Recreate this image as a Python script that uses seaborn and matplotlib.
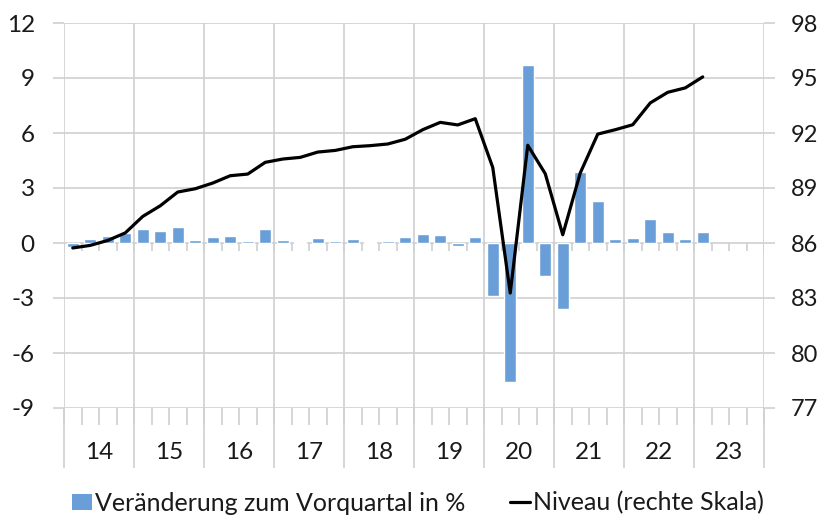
import pandas as pd
import numpy as np
import matplotlib.pyplot as plt
import seaborn as sns
from matplotlib.patches import Patch
from matplotlib.lines import Line2D
import matplotlib.transforms as mtransforms

sns.set_theme(style='white')
plt.rcParams['font.family'] = ['Lato', 'DejaVu Sans']
plt.rcParams['axes.unicode_minus'] = False

# --- DATA: quarterly, 2014Q1 .. 2023Q4 ---
years = ['14', '15', '16', '17', '18', '19', '20', '21', '22', '23']
quarters = [f'{y}Q{q}' for y in years for q in range(1, 5)]

change = [-0.2, 0.2, 0.4, 0.55,
          0.75, 0.65, 0.87, 0.15,
          0.33, 0.4, 0.1, 0.75,
          0.18, 0.05, 0.27, 0.1,
          0.24, 0.05, 0.1, 0.33,
          0.5, 0.45, -0.18, 0.33,
          -2.9, -7.6, 9.7, -1.8,
          -3.6, 3.9, 2.3, 0.23,
          0.29, 1.31, 0.62, 0.23,
          0.62, np.nan, np.nan, np.nan]

level = [85.73, 85.87, 86.14, 86.55,
         87.45, 88.03, 88.78, 88.96,
         89.27, 89.67, 89.76, 90.40,
         90.58, 90.67, 90.96, 91.05,
         91.25, 91.31, 91.40, 91.66,
         92.18, 92.58, 92.44, 92.78,
         90.12, 83.27, 91.33, 89.78,
         86.45, 89.82, 91.94, 92.18,
         92.45, 93.64, 94.22, 94.46,
         95.06, np.nan, np.nan, np.nan]

df = pd.DataFrame({'quarter': quarters, 'change': change, 'level': level})
df['pos'] = np.arange(len(df))

bar_color = '#6A9ED8'
grid_color = '#D0D0D0'
text_color = '#1A1A1A'

fig = plt.figure(figsize=(8.21, 5.19), dpi=100)
ax = fig.add_axes([64/821, 1 - 408/519, 700/821, 385/519])

sns.barplot(x='quarter', y='change', data=df, order=quarters, ax=ax,
            color=bar_color, width=0.68, saturation=1, zorder=3)
ax.set_xlim(-0.5, len(quarters) - 0.5)
ax.set_ylim(-9, 12)
ax.set_yticks(np.arange(-9, 13, 3))
ax.set_xlabel('')
ax.set_ylabel('')
ax.set_xticks([])

# gridlines
for y in np.arange(-9, 13, 3):
    ax.axhline(y, color=grid_color, lw=1.2, zorder=1)
for k in range(len(years) + 1):
    ax.axvline(-0.5 + 4 * k, color=grid_color, lw=1.2, zorder=1)

for s in ax.spines.values():
    s.set_visible(False)

# quarter ticks hanging from the zero line
trans = mtransforms.blended_transform_factory(ax.transData, ax.transAxes)
zero_frac = 9 / 21
ax.vlines(np.arange(len(quarters) + 1) - 0.5, zero_frac - 0.022, zero_frac,
          transform=trans, color=grid_color, lw=1.2, zorder=1)

# category label box below the plot
ax.vlines(np.arange(len(quarters) + 1) - 0.5, -0.045, 0,
          transform=trans, color=grid_color, lw=1.2, clip_on=False)
ax.vlines(np.arange(len(years) + 1) * 4 - 0.5, -0.155, 0,
          transform=trans, color=grid_color, lw=1.2, clip_on=False)
for k, y in enumerate(years):
    ax.text(4 * k + 1.5, -0.115, y, transform=trans, ha='center', va='center',
            fontsize=17.5, color=text_color)

ax.tick_params(axis='y', left=True, length=8, width=1.2, color=grid_color,
               direction='out', pad=13, labelsize=17.5, labelcolor=text_color)

# right axis: level
ax2 = ax.twinx()
sns.lineplot(x='pos', y='level', data=df, ax=ax2, color='black', lw=2.3, zorder=4)
ax2.set_ylim(77, 98)
ax2.set_yticks(np.arange(77, 99, 3))
ax2.set_ylabel('')
ax2.tick_params(axis='y', right=True, length=8, width=1.2, color=grid_color,
                direction='out', pad=11, labelsize=17, labelcolor=text_color)
for s in ax2.spines.values():
    s.set_visible(False)
ax2.grid(False)

handles = [Patch(facecolor=bar_color, edgecolor='none'),
           Line2D([0], [0], color='black', lw=2.3)]
labels = ['Veränderung zum Vorquartal in %', 'Niveau (rechte Skala)']
fig.legend(handles, labels, loc='center', bbox_to_anchor=(0.509, 1 - 503/519),
           ncol=2, frameon=False, fontsize=18, handlelength=0.8,
           handleheight=0.6, handletextpad=0.1, columnspacing=1.8,
           labelcolor=text_color)

plt.savefig('out.png', dpi=100)
